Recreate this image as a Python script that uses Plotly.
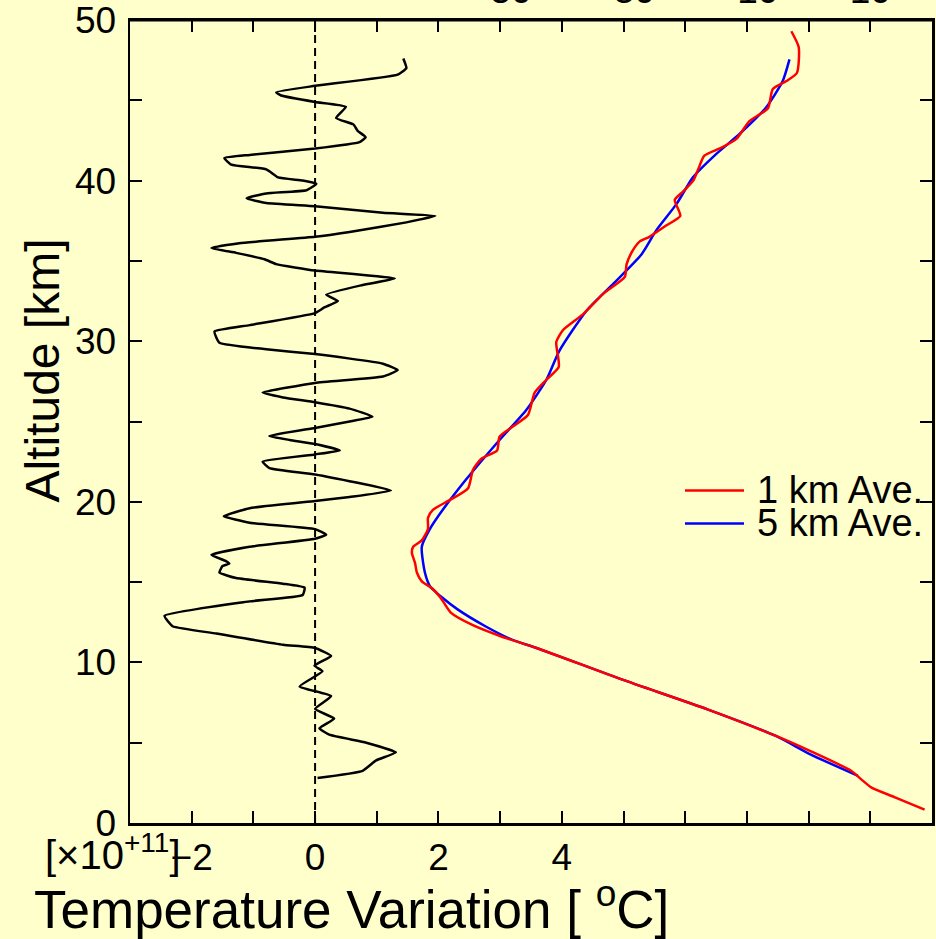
import plotly.graph_objects as go

# ---- Temperature variation (x1e11) vs altitude (black curve, bottom axis)
var_alt = [47.6, 47.0, 46.6, 45.9, 45.5, 45.3, 44.9, 44.6, 43.9, 43.5, 43.1, 42.7, 42.4, 42.0,
           41.6, 41.4, 41.0, 40.7, 40.2, 40.0, 39.8, 39.4, 39.2, 38.9, 38.6, 38.4, 38.0, 37.8,
           37.4, 36.8, 36.5, 36.1, 35.8, 35.5, 35.1, 34.8, 34.4, 33.9, 33.5, 32.9, 32.5, 32.1,
           31.75, 31.0, 30.6, 29.9, 29.5, 29.2, 28.6, 28.2, 27.8, 27.4, 26.8, 26.5, 26.2, 25.8,
           25.3, 25.0, 24.6, 24.1, 23.85, 23.6, 23.2, 22.95, 22.5, 22.1, 21.7, 20.7, 20.3, 20.05,
           19.6, 19.1, 18.7, 18.3, 17.95, 17.7, 17.2, 16.7, 16.3, 16.15, 16.0, 15.6, 15.25, 14.9,
           14.65, 14.2, 13.8, 12.9, 12.25, 11.8, 11.1, 10.9, 10.4, 9.8, 9.45, 8.5, 7.9, 7.1,
           6.5, 5.9, 5.5, 5.0, 4.4, 3.9, 3.25, 2.8]
var_val = [1.43, 1.48, 1.34, 0.0, -0.63, -0.55, 0.0, 0.50, 0.34, 0.62, 0.69, 0.82, 0.72, 0.0,
           -1.06, -1.47, -1.36, -0.79, -0.60, -0.20, 0.02, -0.14, -0.79, -1.11, -0.79, 0.0, 1.10, 1.95,
           1.48, 0.56, 0.0, -1.23, -1.68, -1.28, -0.82, -0.63, 0.0, 1.29, 0.77, 0.18, 0.37, 0.15,
           0.0, -1.06, -1.63, -1.55, -0.79, 0.0, 1.10, 1.34, 1.10, 0.0, -0.85, -0.52, 0.0, 0.56,
           0.93, 0.56, 0.0, -0.74, -0.41, 0.0, 0.40, 0.0, -0.85, -0.74, 0.0, 1.23, 0.56, 0.0,
           -1.06, -1.48, -1.06, 0.0, 0.18, 0.0, -1.06, -1.68, -1.44, -1.39, -1.50, -1.55, -1.28, -0.52,
           -0.17, -0.20, -1.06, -2.44, -2.31, -1.60, -0.52, 0.0, 0.26, -0.01, 0.12, -0.25, 0.26, 0.0,
           0.31, 0.07, 0.23, 0.83, 1.31, 0.99, 0.77, 0.04]

# ---- Temperature profile, 1 km average (red, top axis)
t1_alt = [49.3, 48.3, 46.7, 46.2, 45.7, 44.5, 43.7, 42.6, 42.0, 41.55, 40.7, 40.0, 39.3, 38.8,
          37.8, 37.2, 36.5, 36.2, 35.65, 34.8, 34.0, 32.95, 31.7, 30.7, 29.95, 28.4, 27.6, 26.8,
          25.4, 24.7, 24.05, 23.2, 22.7, 22.0, 20.85, 20.1, 19.5, 19.0, 18.3, 17.6, 17.2, 16.8,
          16.2, 15.6, 15.05, 14.6, 14.0, 13.1, 12.35, 11.6, 10.9, 8.94, 7.08, 5.42, 4.49, 3.25,
          2.73, 2.2, 1.6, 0.83]
t1_val = [-2.8, -1.6, -1.9, -3.6, -5.8, -6.6, -9.6, -11.7, -14.4, -16.9, -17.9, -18.7, -20.4, -21.7,
          -20.8, -23.1, -25.8, -27.4, -28.5, -29.5, -29.8, -33.3, -36.5, -39.8, -40.9, -40.5, -42.5, -44.4,
          -45.5, -47.9, -50.1, -50.5, -53.0, -54.4, -55.2, -58.2, -60.9, -61.7, -61.7, -62.7, -64.1, -64.3,
          -63.8, -63.5, -62.7, -61.0, -59.6, -58.0, -54.6, -49.7, -44.1, -30.3, -16.4, -5.3, 0.2, 6.9,
          8.5, 10.2, 14.0, 18.8]

# ---- Temperature profile, 5 km average (blue, top axis)
t5_alt = [47.55, 46.2, 44.55, 42.9, 41.65, 40.2, 38.55, 36.9, 35.4, 33.6, 31.9, 29.4, 27.6, 25.7,
          23.85, 21.4, 19.5, 18.3, 17.2, 15.6, 14.7, 14.1, 13.3, 12.25, 11.4, 10.9, 8.94, 7.08,
          5.42, 4.29, 2.94]
t5_val = [-3.1, -4.2, -6.9, -11.2, -15.0, -18.75, -21.4, -24.7, -27.1, -31.6, -36.0, -40.4, -42.5, -45.8,
          -50.1, -55.5, -59.3, -61.4, -62.7, -62.2, -61.3, -59.6, -56.9, -52.4, -48.0, -44.1, -30.3, -16.4,
          -5.3, 0.2, 8.0]

series_names = ["1 km Ave.", "5 km Ave."]
series_colors = ["#FF0000", "#0000FF"]

# ---- Tick labels
bottom_tickvals = list(range(-2, 10))
bottom_ticktext = ["\u22122", "", "0", "", "2", "", "4", "", "", "", "", ""]
top_tickvals = list(range(-100, 20, 10))
top_ticktext = ["" if v not in (-50, -30, -10, 10) else ("\u2212" + str(-v) if v < 0 else str(v))
                for v in top_tickvals]
alt_tickvals = list(range(0, 55, 5))
alt_ticktext = [str(v) if v % 10 == 0 else "" for v in alt_tickvals]

BG = "#FFFFCC"
FONT = "Liberation Sans, Arial, Helvetica, sans-serif"

fig = go.Figure()
fig.add_trace(go.Scatter(x=var_val, y=var_alt, mode="lines", xaxis="x", yaxis="y",
                         line=dict(color="black", width=2.5, shape="spline", smoothing=0.4),
                         showlegend=False))
fig.add_trace(go.Scatter(x=t5_val, y=t5_alt, mode="lines", xaxis="x2", yaxis="y",
                         name=series_names[1],
                         line=dict(color=series_colors[1], width=2.5, shape="spline", smoothing=0.6),
                         showlegend=False))
fig.add_trace(go.Scatter(x=t1_val, y=t1_alt, mode="lines", xaxis="x2", yaxis="y",
                         name=series_names[0],
                         line=dict(color=series_colors[0], width=2.5, shape="spline", smoothing=0.6),
                         showlegend=False))

axis_common = dict(ticks="inside", ticklen=12, tickwidth=2, tickcolor="black",
                   showline=True, linecolor="black", linewidth=2.5, automargin=False,
                   showgrid=False, zeroline=False, tickfont=dict(size=37, color="black"))

fig.update_layout(
    width=936, height=939,
    margin=dict(l=130, r=4, t=20, b=116),
    paper_bgcolor=BG, plot_bgcolor=BG,
    font=dict(family=FONT, color="black"),
    dragmode=False,
    xaxis=dict(range=[-3, 10], tickmode="array", tickvals=bottom_tickvals, ticktext=bottom_ticktext,
               ticklabelstandoff=0, **axis_common),
    xaxis2=dict(range=[-110, 20], overlaying="x", side="top", anchor="y",
                tickmode="array", tickvals=top_tickvals, ticktext=top_ticktext,
                ticklabeloverflow="allow", **axis_common),
    yaxis=dict(range=[0, 50], tickmode="array", tickvals=alt_tickvals, ticktext=alt_ticktext,
               mirror="ticks", ticklabelstandoff=4, ticklabeloverflow="allow", **axis_common),
)

# top edge of the plot frame, drawn explicitly
fig.add_shape(type="line", xref="paper", yref="paper", x0=0, x1=1, y0=1, y1=1,
              line=dict(color="black", width=3), layer="above")

# dashed zero line of the variation axis
fig.add_vline(x=0, line=dict(color="black", width=2, dash="8px,5px"))

# axis titles
fig.add_annotation(text="Altitude [km]", xref="paper", yref="paper", x=-0.1085, y=0.5634,
                   textangle=-90, showarrow=False, font=dict(size=48),
                   xanchor="center", yanchor="middle")
fig.add_annotation(text="Temperature Variation [ <sup>o</sup>C]", xref="paper", yref="paper",
                   x=0.2768, y=-0.103, showarrow=False, font=dict(size=53),
                   xanchor="center", yanchor="middle")
fig.add_annotation(text="[\u00d710<sup>+11</sup>]", xref="paper", yref="paper",
                   x=-0.0212, y=-0.036, showarrow=False, font=dict(size=40),
                   xanchor="center", yanchor="middle")

# legend (drawn manually to match the compact original)
leg_y = [0.4142, 0.3731]
for name, color, ly in zip(series_names, series_colors, leg_y):
    fig.add_shape(type="line", xref="paper", yref="paper", x0=0.692, x1=0.7656, y0=ly, y1=ly,
                  line=dict(color=color, width=2.5))
    fig.add_annotation(text=name, xref="paper", yref="paper", x=0.7790, y=ly, showarrow=False,
                       xanchor="left", yanchor="middle", font=dict(size=38))

fig.write_html("out.html", config={"displayModeBar": False, "staticPlot": True},
               post_script="document.body.style.margin='0';")
